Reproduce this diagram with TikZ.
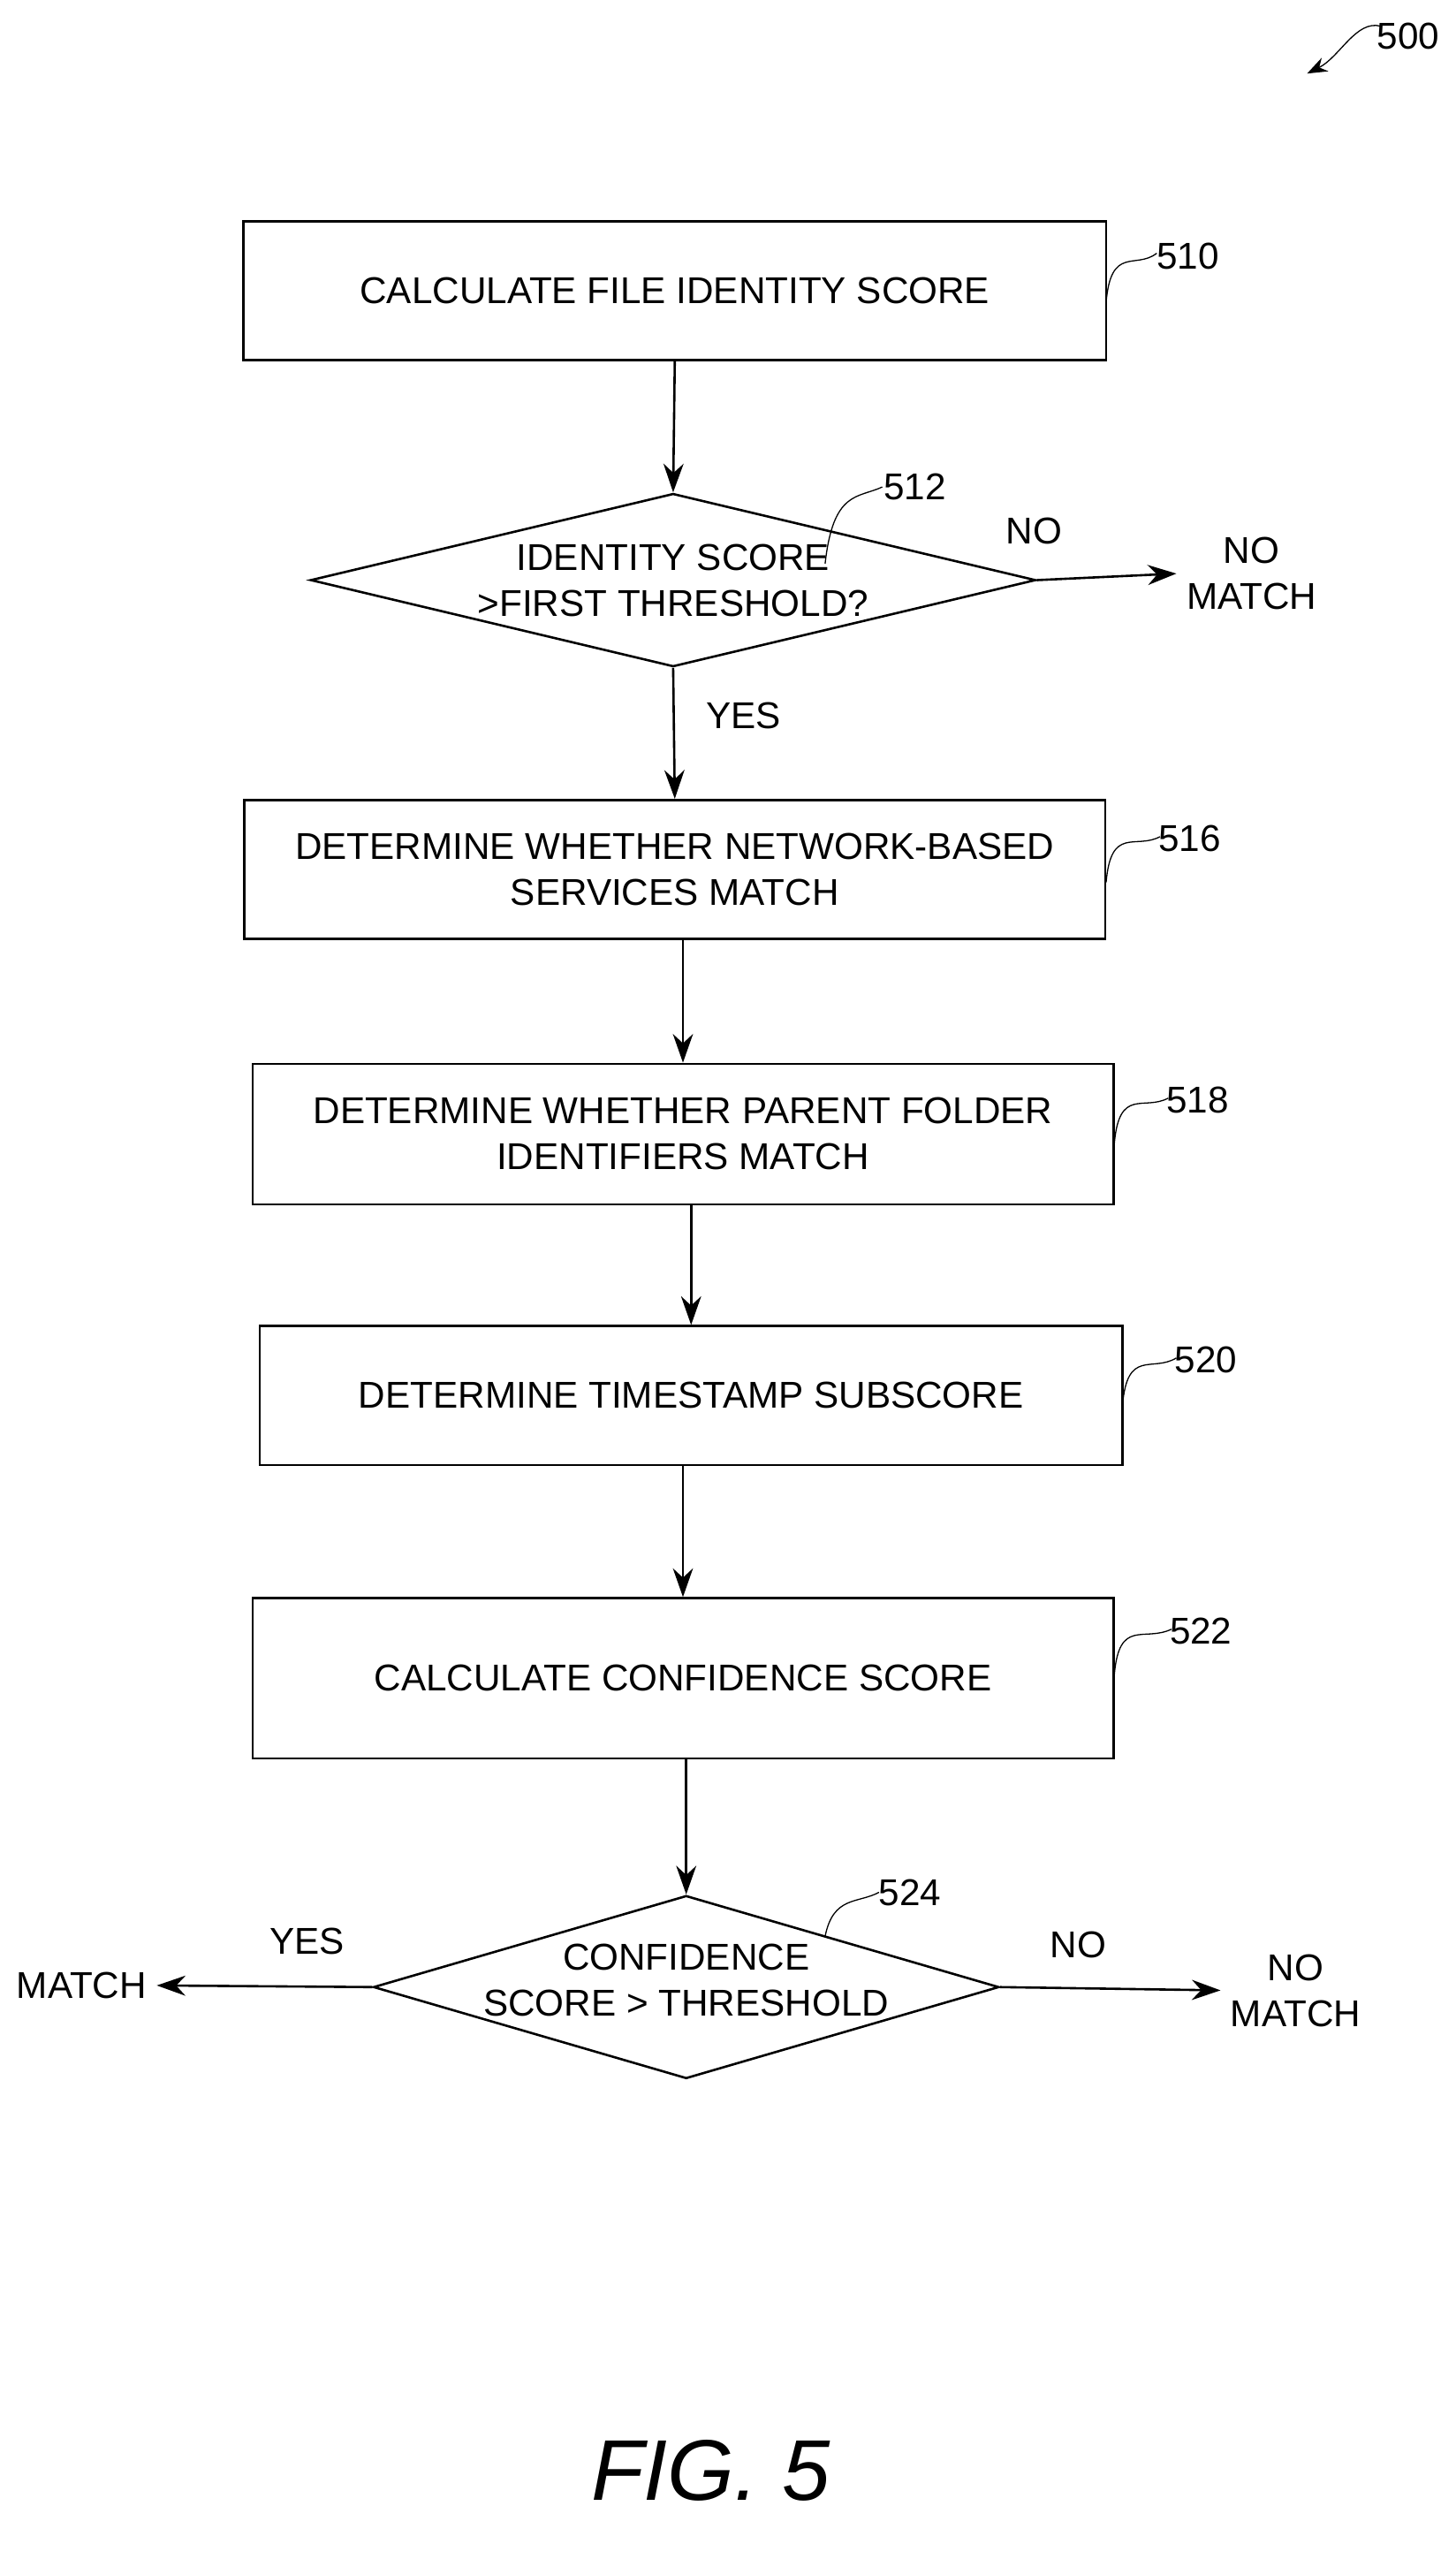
\documentclass[tikz,border=0pt]{standalone}
\usepackage{fontspec}
\setmainfont{Liberation Sans}
\usetikzlibrary{shapes.geometric,arrows.meta}
\tikzset{
  step/.style={draw,thick,rectangle,minimum height=#1},
  dec/.style={draw,thick,diamond,inner sep=0pt},
  txt/.style={font=\fontsize{13}{16}\selectfont,align=center},
  ref/.style={font=\fontsize{13}{16}\selectfont},
  flow/.style={thick,-{Stealth[length=10pt,width=7pt]}},
  lead/.style={thin}
}
\begin{document}
\begin{tikzpicture}[x=0.02cm,y=-0.02cm]
\useasboundingbox (0,0) rectangle (891,1566);
%fig number
\node[ref] (n500) at (862,22) {500};
\draw[lead,-{Stealth[length=7pt]}] (845,16) .. controls (830,12) and (820,35) .. (800,45);
%510
\node[step=1.7cm,minimum width=10.56cm] (s510) at (413,178) {};
\node[txt] at (s510) {CALCULATE FILE IDENTITY SCORE};
\node[ref] (n510) at (727,157) {510};
\draw[lead] (677,185) .. controls (680,150) and (695,165) .. (708,155);
%512
\node[dec,minimum width=8.88cm,minimum height=2.12cm] (d512) at (412,355) {};
\node[txt] (t512) at (412,355) {IDENTITY SCORE\\>FIRST THRESHOLD?};
\node[ref] (n512) at (560,298) {512};
\draw[lead] (505,345) .. controls (510,300) and (525,305) .. (540,298);
\node[txt] (nm1) at (766,351) {NO\\MATCH};
\draw[flow] (d512.east) -- (nm1.west);
\node[txt] at (633,325) {NO};
\node[txt] at (455,438) {YES};
\draw[flow] (s510.south) -- (d512.north);
%516
\node[step=1.7cm,minimum width=10.54cm] (s516) at (413,532) {};
\node[txt] at (s516) {DETERMINE WHETHER NETWORK-BASED\\SERVICES MATCH};
\node[ref] (n516) at (728,513) {516};
\draw[lead] (677,540) .. controls (680,505) and (695,520) .. (710,512);
\draw[flow] (d512.south) -- (s516.north);
%518
\node[step=1.72cm,minimum width=10.54cm] (s518) at (418,694) {};
\node[txt] at (s518) {DETERMINE WHETHER PARENT FOLDER\\IDENTIFIERS MATCH};
\node[ref] (n518) at (733,673) {518};
\draw[lead] (682,700) .. controls (685,665) and (700,680) .. (715,672);
\draw[flow] (s516.south -| s518.north) -- (s518.north);
%520
\node[step=1.7cm,minimum width=10.56cm] (s520) at (423,854) {};
\node[txt] at (s520) {DETERMINE TIMESTAMP SUBSCORE};
\node[ref] (n520) at (738,832) {520};
\draw[lead] (687,860) .. controls (690,825) and (705,840) .. (720,831);
\draw[flow] (s518.south -| s520.north) -- (s520.north);
%522
\node[step=1.96cm,minimum width=10.54cm] (s522) at (418,1027) {};
\node[txt] at (s522) {CALCULATE CONFIDENCE SCORE};
\node[ref] (n522) at (735,998) {522};
\draw[lead] (682,1025) .. controls (685,990) and (700,1005) .. (717,997);
\draw[flow] (s520.south -| s522.north) -- (s522.north);
%524
\node[dec,minimum width=7.66cm,minimum height=2.24cm] (d524) at (420,1216) {};
\node[txt] (t524) at (420,1212) {CONFIDENCE\\SCORE > THRESHOLD};
\node[ref] (n524) at (557,1158) {524};
\draw[flow] (s522.south -| d524.north) -- (d524.north);
\draw[lead] (505,1185) .. controls (510,1160) and (525,1165) .. (538,1158);
\node[txt] (m) at (50,1215) {MATCH};
\draw[flow] (d524.west) -- (m.east);
\node[txt] at (188,1188) {YES};
\node[txt] (nm2) at (793,1218) {NO\\MATCH};
\draw[flow] (d524.east) -- (nm2.west);
\node[txt] at (660,1190) {NO};
\node[font=\fontsize{30}{34}\selectfont\rmfamily\itshape] (fig) at (435,1512) {FIG. 5};
\end{tikzpicture}
\end{document}
